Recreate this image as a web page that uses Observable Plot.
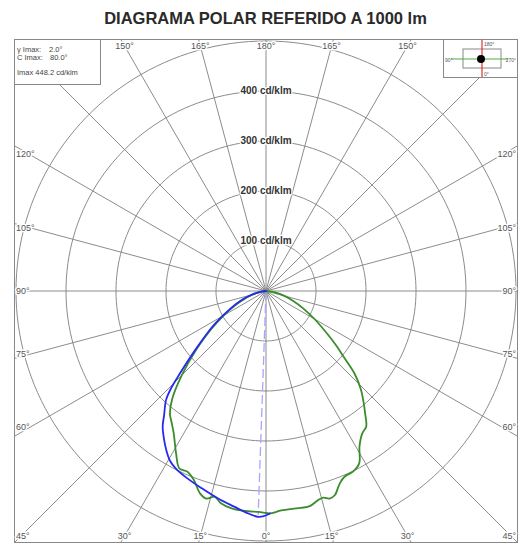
<!DOCTYPE html>
<html><head><meta charset="utf-8">
<script src="https://cdn.jsdelivr.net/npm/d3@7"></script>
<script src="https://cdn.jsdelivr.net/npm/@observablehq/plot@0.6"></script>
<style>
body{margin:0;background:#fff;font-family:"Liberation Sans",Arial,sans-serif;}
#wrap{position:relative;width:518px;height:543px;overflow:hidden;}
#title{position:absolute;left:0;top:9px;width:531px;text-align:center;font-weight:bold;font-size:16.5px;line-height:18px;color:#2a2a2a;}
#chart{position:absolute;left:0;top:38px;}
#info{position:absolute;left:14px;top:39px;width:85px;height:44px;border:1px solid #888;background:#fff;font-size:7.5px;color:#444;}
#info span{position:absolute;white-space:nowrap;}
#key{position:absolute;left:443px;top:39px;width:73px;height:37px;border:1px solid #888;background:#fff;}
</style></head><body>
<div id="wrap">
  <div id="title"></div>
  <div id="chart"></div>
  <div id="info"></div>
  <div id="key"></div>
</div>
<script>
// ---- data (cd/klm vs gamma angle in degrees; negative = left half) ----
const greenGamma = [-90,-85,-80,-75,-70,-65,-60,-55,-50,-45,-41,-38,-36,-33,-29,-26,-23.5,-21,-18,-16,-14,-12,-9,-5.5,-2,0,1,4,8,11.5,14,15.5,17,18.6,21,23,25.7,28.4,31,34,36.5,39,41,44,47,50,52,55,60,65,70,75,80,85,90];
const greenValue = [0,6,15,28,46,68,98,135,182,238,286,312,322,339,371,395,394,404,426,432,424,434,440,442,442,444,445,440,439,439,431,429,434,431,412,403,401,392,363,344,337,315,298,273,242,200,180,150,112,82,58,38,20,8,0];
const blueGamma = [-90,-85,-80,-75,-70,-64,-57,-52,-49,-46.5,-44.3,-42.5,-39.4,-37.3,-34.5,-32,-29.5,-27,-23,-18,-13,-8.4,-4.7,-2,-0.8,1];
const blueValue = [0,7,16,31,50,78,124,165,199,234,272,296,321,341,360,376,390,398,406,415,426,436,446,452,451,445];
const ringValues = [100,200,300,400,500];
const ringLabels = ["100 cd/klm","200 cd/klm","300 cd/klm","400 cd/klm"];
const rayAngles = d3.range(-180,180,15);
const labelAngles = [-180,-165,-150,-120,-105,-90,-75,-60,-45,-30,-15,0,15,30,45,60,75,90,105,120,150,165];
const imaxGamma = -2, imaxValue = 448.2;
const infoLines = [["γ Imax:","2.0°"],["C Imax:","80.0°"],["Imax 448.2 cd/klm",""]];
const title = "DIAGRAMA POLAR REFERIDO A 1000 lm";

// ---- helpers ----
const R = 503; // half extent of the frame in cd/klm units
const rad = g => g*Math.PI/180;
const px = (g,v) => v*Math.sin(rad(g));
const py = (g,v) => v*Math.cos(rad(g));

const green = greenGamma.map((g,i)=>({g, v: greenValue[i]}));
const blue = blueGamma.map((g,i)=>({g, v: blueValue[i]}));
const rays = rayAngles.map(g => {
  const s=Math.abs(Math.sin(rad(g))), c=Math.abs(Math.cos(rad(g)));
  return {g, L: R/Math.max(s,c)};
});
const ringPts = ringValues.flatMap(r => d3.range(0,361,2).map(a=>({r, g:a})));

const labels = labelAngles.map(g => {
  const s=Math.sin(rad(g)), c=Math.cos(rad(g));
  const text = Math.round(Math.abs(g))+"°";
  if (Math.abs(c) >= Math.abs(s)-1e-9) {
    const y = Math.sign(c)*(R-13);
    let x = y*s/c;
    if (Math.abs(x) > R-40) return {x: Math.sign(x)*(R-3), y, text, anchor: x<0?"start":"end"};
    return {x, y, text, anchor:"middle"};
  } else {
    const xi = Math.sign(s)*(R-30);
    const y = xi*c/s;
    const x = Math.sign(s)*(R-3);
    return {x, y, text, anchor: s<0 ? "start":"end"};
  }
});
const labelMark = anchor => Plot.text(labels.filter(d=>d.anchor===anchor), {x: "x", y: "y", text: "text", textAnchor: anchor, fontSize: 9, fill: "#555", stroke: "white", strokeWidth: 3});

const plot = Plot.plot({
  width: 518, height: 505,
  marginLeft: 14, marginRight: 1, marginTop: 1, marginBottom: 1,
  x: {domain: [-R, R], axis: null},
  y: {domain: [R, -R], axis: null},
  style: {fontFamily: "Liberation Sans, Arial, sans-serif", background: "white", overflow: "visible"},
  marks: [
    Plot.link(rays, {x1: 0, y1: 0, x2: d=>px(d.g,d.L), y2: d=>py(d.g,d.L), stroke: "#8c8c8c", strokeWidth: 1}),
    Plot.line(ringPts, {x: d=>px(d.g,d.r), y: d=>py(d.g,d.r), z: "r", stroke: "#8c8c8c", strokeWidth: 1}),
    Plot.frame({stroke: "#888"}),
    Plot.link([{g: imaxGamma, v: imaxValue}], {x1: 0, y1: 0, x2: d=>px(d.g,d.v), y2: d=>py(d.g,d.v), stroke: "#a6a6ff", strokeWidth: 1.3, strokeDasharray: "9,4"}),
    Plot.line(green, {x: d=>px(d.g,d.v), y: d=>py(d.g,d.v), stroke: "#3a8c2c", strokeWidth: 1.8, curve: "catmull-rom"}),
    Plot.line(blue, {x: d=>px(d.g,d.v), y: d=>py(d.g,d.v), stroke: "#2828f0", strokeWidth: 1.8, curve: "catmull-rom"}),
    Plot.text(ringLabels, {x: 0, y: (d,i)=>-ringValues[i], text: d=>d, fontSize: 10, fontWeight: "bold", fill: "#333", stroke: "white", strokeWidth: 2.5}),
    labelMark("middle"), labelMark("start"), labelMark("end")
  ]
});
document.getElementById("chart").appendChild(plot);
document.getElementById("title").textContent = title;

// info box
const info = document.getElementById("info");
const tops = [5, 13, 28];
infoLines.forEach((l,i)=>{
  const a = document.createElement("span"); a.style.left="2px"; a.style.top=tops[i]+"px"; a.textContent=l[0]; info.appendChild(a);
  if (l[1]) { const b=document.createElement("span"); b.style.left=(i===0?34:35)+"px"; b.style.top=tops[i]+"px"; b.textContent=l[1]; info.appendChild(b); }
});

// key (C-plane orientation sketch)
const key = d3.select("#key").append("svg").attr("width",73).attr("height",37).style("display","block");
key.append("rect").attr("x",19).attr("y",9).attr("width",38).attr("height",19).attr("fill","none").attr("stroke","#888");
key.append("line").attr("x1",7).attr("x2",64).attr("y1",19).attr("y2",19).attr("stroke","#4caf3a").attr("stroke-width",1.2);
key.append("line").attr("x1",38).attr("x2",38).attr("y1",0).attr("y2",37).attr("stroke","#e23030").attr("stroke-width",1.2);
key.append("circle").attr("cx",37).attr("cy",19).attr("r",4).attr("fill","#000");
const kt = [["180°",40,6,"start"],["0°",40,36,"start"],["90°",1,22,"start"],["270°",72,22,"end"]];
kt.forEach(t=>key.append("text").attr("x",t[1]).attr("y",t[2]).attr("text-anchor",t[3]).attr("font-size",5).attr("fill","#555").attr("font-family","Liberation Sans, Arial, sans-serif").text(t[0]));
</script>
</body></html>
